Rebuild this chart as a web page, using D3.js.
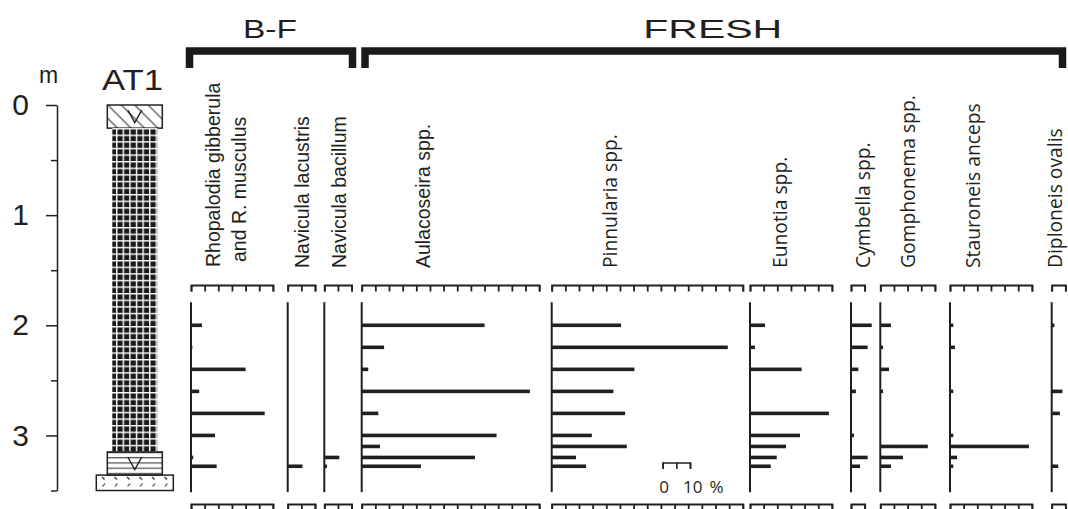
<!DOCTYPE html>
<html>
<head>
<meta charset="utf-8">
<script src="https://cdn.jsdelivr.net/npm/d3@7"></script>
<style>
  body { margin: 0; background: #fff; }
  svg { display: block; }
</style>
</head>
<body>
<div id="chart"></div>
<script>
// sample depths (m) where diatoms were counted
const depths = [2.0, 2.2, 2.4, 2.6, 2.8, 3.0, 3.1, 3.2, 3.28];

// taxa, in drawing order
const taxonLabels = [
  ["Rhopalodia gibberula", "and R. musculus"],
  ["Navicula lacustris"],
  ["Navicula bacillum"],
  ["Aulacoseira spp."],
  ["Pinnularia spp."],
  ["Eunotia spp."],
  ["Cymbella spp."],
  ["Gomphonema spp."],
  ["Stauroneis anceps"],
  ["Diploneis ovalis"]
];
const taxonGroup = ["B-F", "B-F", "B-F", "FRESH", "FRESH", "FRESH", "FRESH", "FRESH", "FRESH", "FRESH"];
const taxonMax = [30, 10, 10, 65, 70, 30, 5, 20, 30, 5];   // % at the end of each scale

// percentages, one value per depth
const rhopalodia  = [4, 0.5, 20, 3, 27, 8.8, 0, 0.8, 9.4];
const navLacustris = [0, 0, 0, 0, 0, 0, 0, 0, 5.4];
const navBacillum = [0, 0, 0, 0, 0, 0, 0, 5.5, 1];
const aulacoseira = [45, 8.2, 2.4, 61.6, 6.1, 49.4, 6.7, 41.5, 21.7];
const pinnularia  = [25.4, 64.5, 30.3, 22.6, 26.9, 14.7, 27.5, 8.9, 12.6];
const eunotia     = [5.5, 1.8, 18.9, 0, 28.9, 18.3, 13.2, 9.8, 7.6];
const cymbella    = [7.6, 6.1, 2.7, 1.8, 0, 1.1, 0, 6.1, 3.3];
const gomphonema  = [3.9, 1, 3.2, 1, 0, 0, 17.4, 8.3, 3.9];
const stauroneis  = [1.2, 1.8, 0, 1.2, 0, 1.2, 28.9, 2.6, 1.2];
const diploneis   = [1, 0, 0, 3.9, 3, 0, 0, 0, 2.4];
const taxonValues = [rhopalodia, navLacustris, navBacillum, aulacoseira, pinnularia,
  eunotia, cymbella, gomphonema, stauroneis, diploneis];

// core AT1 lithology
const lithTop  = [0, 0.21, 3.15, 3.36];
const lithBase = [0.21, 3.15, 3.36, 3.5];
const lithType = ["hatch", "grid", "lines", "sand"];
const lithVolcanic = [true, false, true, false];

const depthTicks = [0, 0.5, 1, 1.5, 2, 2.5, 3, 3.5];
const groups = ["B-F", "FRESH"];

// ---- layout ----
const width = 1068, height = 509;
const ink = "#231f20";
const PX_PER_PCT = 2.73;
const panelLeft = [191, 287.7, 324.3, 361.7, 551.7, 750, 851, 880.3, 950, 1051.7];
const labelX = [[220, 245.5], [308.5], [346], [430], [617], [786.7], [870], [915], [980], [1062]];
const labelBottom = [[267, 262], [268], [268], [268], [268], [268], [268], [268], [268], [268]];
const groupSpan = { "B-F": [189.5, 352.5], "FRESH": [365, 1062.5] };
const lithWidth = { hatch: 55, grid: 45, lines: 55, sand: 77 };
const colCenter = 134.8;
const arial = "'Liberation Sans', Arial, sans-serif";
const open = "'Open Sans', sans-serif";

const svg = d3.select("#chart")
  .append("svg")
  .attr("width", width)
  .attr("height", height);

const y = d3.scaleLinear().domain([0, 3.5]).range([105, 490.5]);

// patterns for the core column
const defs = svg.append("defs");
defs.append("pattern")
  .attr("id", "p-hatch").attr("patternUnits", "userSpaceOnUse")
  .attr("width", 9.5).attr("height", 9.5)
  .attr("patternTransform", "rotate(-45)")
  .append("line").attr("x1", 2).attr("x2", 2).attr("y1", 0).attr("y2", 9.5)
  .attr("stroke", ink).attr("stroke-width", 1);

const grid = defs.append("pattern")
  .attr("id", "p-grid").attr("patternUnits", "userSpaceOnUse")
  .attr("x", 116).attr("y", 128)
  .attr("width", 6.6).attr("height", 6.6);
grid.append("rect").attr("width", 6.6).attr("height", 6.6).attr("fill", "#1a1a1a");
grid.append("path").attr("d", "M0.7,0V6.6M0,0.7H6.6")
  .attr("stroke", "#fff").attr("stroke-width", 1.4);

defs.append("pattern")
  .attr("id", "p-lines").attr("patternUnits", "userSpaceOnUse")
  .attr("y", 452).attr("width", 10).attr("height", 5.2)
  .append("line").attr("x1", 0).attr("x2", 10).attr("y1", 0.6).attr("y2", 0.6)
  .attr("stroke", ink).attr("stroke-width", 1);

const sand = defs.append("pattern")
  .attr("id", "p-sand").attr("patternUnits", "userSpaceOnUse")
  .attr("x", 98).attr("y", 474).attr("width", 12.5).attr("height", 16);
sand.append("path").attr("d", "M4,3L6.5,5.5M7,9.5L4.5,12.5")
  .attr("stroke", ink).attr("stroke-width", 1.1).attr("fill", "none");

// depth axis
const depthAxis = svg.append("g")
  .attr("transform", "translate(57,0)")
  .call(d3.axisLeft(y)
    .tickValues(depthTicks)
    .tickSize(11)
    .tickSizeOuter(0)
    .tickPadding(17)
    .tickFormat(d => Number.isInteger(d) ? d : ""));
depthAxis.select(".domain").attr("stroke", ink).attr("stroke-width", 1.5);
depthAxis.selectAll(".tick line")
  .attr("stroke", ink).attr("stroke-width", 1.5)
  .attr("x2", d => Number.isInteger(d) ? -11 : -6);
depthAxis.selectAll(".tick text")
  .attr("font-family", arial).attr("font-size", 30).attr("fill", ink);

svg.append("text")
  .attr("x", 48.5).attr("y", 83)
  .attr("text-anchor", "middle")
  .attr("font-family", arial).attr("font-size", 23).attr("fill", ink)
  .text("m");

svg.append("text")
  .attr("x", 132.5).attr("y", 89.5)
  .attr("text-anchor", "middle")
  .attr("font-family", arial).attr("font-size", 29).attr("fill", ink)
  .attr("textLength", 61).attr("lengthAdjust", "spacingAndGlyphs")
  .text("AT1");

// core column
lithType.forEach((t, i) => {
  const w = lithWidth[t];
  svg.append("rect")
    .attr("x", colCenter - w / 2)
    .attr("y", y(lithTop[i]))
    .attr("width", w)
    .attr("height", y(lithBase[i]) - y(lithTop[i]))
    .attr("fill", `url(#p-${t})`)
    .attr("stroke", ink)
    .attr("stroke-width", t === "grid" ? 0 : 1.5);
  if (lithVolcanic[i]) {
    const cy = (y(lithTop[i]) + y(lithBase[i])) / 2;
    svg.append("path")
      .attr("d", `M${colCenter - 7},${cy - 6.5}L${colCenter},${cy + 6}L${colCenter + 7},${cy - 6.5}`)
      .attr("fill", "none").attr("stroke", ink).attr("stroke-width", 1.4);
  }
});

// group brackets
groups.forEach(g => {
  const [a, b] = groupSpan[g];
  svg.append("path")
    .attr("d", `M${a},68V51H${b}V68`)
    .attr("fill", "none")
    .attr("stroke", "#1a1a1a")
    .attr("stroke-width", 7.5)
    .attr("stroke-linejoin", "miter");
  svg.append("text")
    .attr("x", (a + b) / 2 - 1)
    .attr("y", 38)
    .attr("text-anchor", "middle")
    .attr("font-family", arial).attr("font-size", 26).attr("fill", ink)
    .attr("textLength", g === "B-F" ? 54 : 139)
    .attr("lengthAdjust", "spacingAndGlyphs")
    .text(g);
});

// diatom panels
taxonLabels.forEach((lines, i) => {
  const left = panelLeft[i];
  const max = taxonMax[i];
  const x = d3.scaleLinear().domain([0, max]).range([left, left + max * PX_PER_PCT]);
  const g = svg.append("g").attr("class", "panel");

  [285, 504].forEach(ty => {
    const ax = g.append("g")
      .attr("transform", `translate(0,${ty})`)
      .call(d3.axisBottom(x)
        .tickValues(d3.range(0, max + 0.1, 5))
        .tickSize(6.5)
        .tickSizeOuter(6.5)
        .tickFormat(""));
    ax.select(".domain").attr("stroke", ink).attr("stroke-width", 1.8);
    ax.selectAll(".tick line").attr("stroke", ink).attr("stroke-width", 1.8);
  });

  g.append("line")
    .attr("x1", x(0)).attr("x2", x(0))
    .attr("y1", y(1.79)).attr("y2", y(3.515))
    .attr("stroke", ink).attr("stroke-width", 2);

  g.selectAll("rect.bar")
    .data(depths.map((d, k) => ({ depth: d, value: taxonValues[i][k] })).filter(d => d.value > 0))
    .enter()
    .append("rect")
    .attr("class", "bar")
    .attr("x", x(0))
    .attr("y", d => y(d.depth) - 1.8)
    .attr("width", d => x(d.value) - x(0))
    .attr("height", 3.6)
    .attr("fill", ink);

  lines.forEach((line, j) => {
    g.append("text")
      .attr("transform", `translate(${labelX[i][j]},${labelBottom[i][j]}) rotate(-90)`)
      .attr("font-family", i < 4 ? arial : open)
      .attr("font-size", i < 4 ? 19.5 : 19.3)
      .attr("fill", ink)
      .text(line);
  });

  // 0-10 % scale bar inside the Pinnularia panel
  if (i === 4) {
    const sb = d3.scaleLinear().domain([0, 10]).range([662.7, 662.7 + 10 * PX_PER_PCT]);
    const sbAxis = g.append("g")
      .attr("transform", "translate(0,462.5)")
      .call(d3.axisBottom(sb).tickValues([0, 5, 10]).tickSize(6.5).tickSizeOuter(6.5).tickFormat(""));
    sbAxis.select(".domain").attr("stroke", ink).attr("stroke-width", 1.6);
    sbAxis.selectAll(".tick line").attr("stroke", ink).attr("stroke-width", 1.6);
    g.append("text").attr("x", sb(0) + 1.5).attr("y", 493.3).attr("text-anchor", "middle")
      .attr("font-family", open).attr("font-size", 17).attr("fill", ink).text("0");
    g.append("text").attr("x", 683).attr("y", 493.3)
      .attr("font-family", open).attr("font-size", 17).attr("fill", ink).text("10");
    g.append("text").attr("x", 709.5).attr("y", 493.3)
      .attr("font-family", open).attr("font-size", 17).attr("fill", ink).text("%");
  }
});
</script>
</body>
</html>
